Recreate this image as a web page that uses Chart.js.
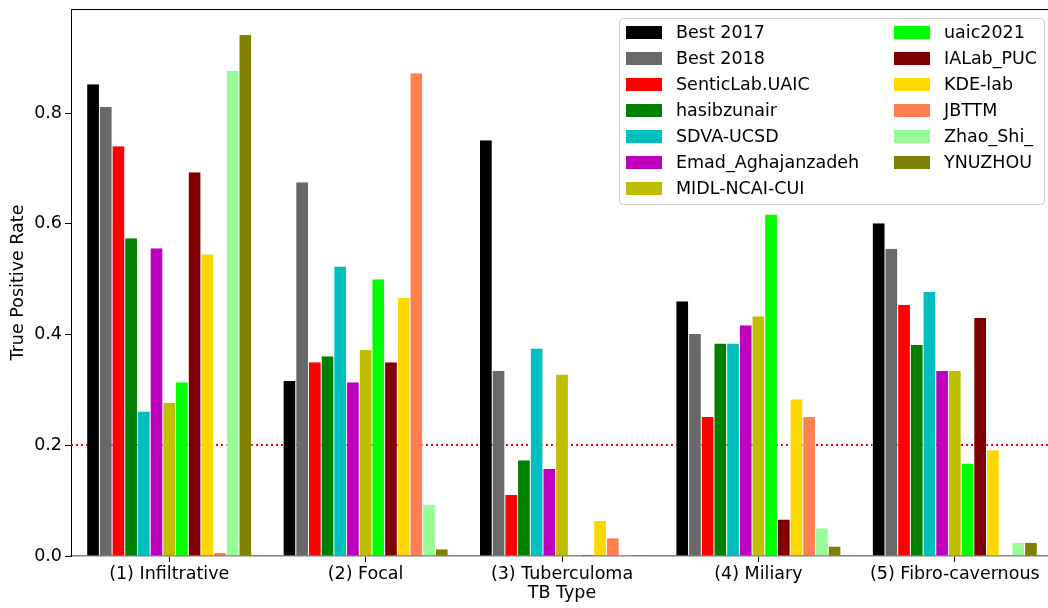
<!DOCTYPE html>
<html>
<head>
<meta charset="utf-8">
<script src="https://cdn.jsdelivr.net/npm/chart.js@4/dist/chart.umd.min.js"></script>
<style>
  html, body { margin: 0; padding: 0; background: #fff; overflow: hidden; }
  #wrap { width: 1053px; height: 608px; }
</style>
</head>
<body>
<div id="wrap"><canvas id="myChart" width="1053" height="608"></canvas></div>
<script>
// TB types on the x axis
const categories = ["(1) Infiltrative", "(2) Focal", "(3) Tuberculoma", "(4) Miliary", "(5) Fibro-cavernous"];

// true positive rate per team, one value per TB type
const best2017 = [0.852, 0.316, 0.751, 0.460, 0.601];
const best2018 = [0.811, 0.675, 0.334, 0.401, 0.555];
const senticLab = [0.740, 0.350, 0.110, 0.251, 0.454];
const hasibzunair = [0.574, 0.361, 0.173, 0.384, 0.381];
const sdvaUcsd = [0.261, 0.523, 0.375, 0.384, 0.477];
const emad = [0.556, 0.314, 0.157, 0.417, 0.334];
const midl = [0.277, 0.372, 0.328, 0.433, 0.334];
const uaic2021 = [0.314, 0.500, 0.002, 0.617, 0.167];
const ialab = [0.693, 0.350, 0.002, 0.066, 0.430];
const kdeLab = [0.545, 0.466, 0.063, 0.283, 0.191];
const jbttm = [0.006, 0.872, 0.032, 0.251, 0.002];
const zhaoShi = [0.876, 0.093, 0.002, 0.050, 0.024];
const ynuzhou = [0.941, 0.012, 0.002, 0.017, 0.024];

const yTicks = [0, 0.2, 0.4, 0.6, 0.8];
const threshold = 0.2;

const series = [
  ["Best 2017", best2017, "#000000"],
  ["Best 2018", best2018, "#696969"],
  ["SenticLab.UAIC", senticLab, "#ff0000"],
  ["hasibzunair", hasibzunair, "#008000"],
  ["SDVA-UCSD", sdvaUcsd, "#00bfbf"],
  ["Emad_Aghajanzadeh", emad, "#bf00bf"],
  ["MIDL-NCAI-CUI", midl, "#bfbf00"],
  ["uaic2021", uaic2021, "#00ff00"],
  ["IALab_PUC", ialab, "#800000"],
  ["KDE-lab", kdeLab, "#ffd700"],
  ["JBTTM", jbttm, "#ff7f50"],
  ["Zhao_Shi_", zhaoShi, "#98fb98"],
  ["YNUZHOU", ynuzhou, "#808000"],
];

const FS = 17.5;
Chart.defaults.font.family = "'DejaVu Sans', sans-serif";
Chart.defaults.font.size = FS;
Chart.defaults.color = "#000";

// red dotted line, top spine and the two-column legend
const extras = {
  id: "extras",
  beforeDatasetsDraw(chart) {
    const { ctx, chartArea } = chart;
    const y = Math.round(chart.scales.y.getPixelForValue(threshold));
    ctx.save();
    ctx.strokeStyle = "#ff0000";
    ctx.lineWidth = 2;
    ctx.setLineDash([2, 3]);
    ctx.beginPath();
    ctx.moveTo(chartArea.left, y);
    ctx.lineTo(chartArea.right, y);
    ctx.stroke();
    ctx.restore();
  },
  afterDraw(chart) {
    const { ctx, chartArea } = chart;
    ctx.save();
    ctx.strokeStyle = "#000";
    ctx.lineWidth = 1;
    ctx.beginPath();
    ctx.moveTo(chartArea.left, chartArea.top + 0.5);
    ctx.lineTo(chartArea.right, chartArea.top + 0.5);
    ctx.stroke();

    // legend box
    const bx = 619, by = 18, bw = 425, bh = 186, r = 4;
    ctx.fillStyle = "rgba(255,255,255,0.85)";
    ctx.strokeStyle = "#cccccc";
    ctx.lineWidth = 1;
    ctx.beginPath();
    ctx.roundRect(bx + 0.5, by + 0.5, bw, bh, r);
    ctx.fill();
    ctx.stroke();

    ctx.font = FS + "px 'DejaVu Sans'";
    ctx.textBaseline = "middle";
    ctx.textAlign = "left";
    chart.data.datasets.forEach((ds, i) => {
      const col = i < 7 ? 0 : 1;
      const row = i < 7 ? i : i - 7;
      const sx = col === 0 ? 626 : 894;
      const tx = col === 0 ? 676 : 944;
      const cy = 32.5 + row * 26;
      ctx.fillStyle = ds.backgroundColor;
      ctx.fillRect(sx, cy - 6.5, 36, 13);
      ctx.fillStyle = "#000";
      ctx.fillText(ds.label, tx, cy + 1);
    });
    ctx.restore();
  },
};

const ctx = document.getElementById("myChart").getContext("2d");
const myChart = new Chart(ctx, {
  type: "bar",
  data: {
    labels: categories,
    datasets: series.map(([label, values, color]) => ({
      label: label,
      data: values,
      backgroundColor: color,
      borderColor: "#ffffff",
      borderWidth: { left: 0.5, right: 0.5, top: 0, bottom: 0 },
      borderSkipped: false,
      categoryPercentage: 0.84,
      barPercentage: 1.0,
    })),
  },
  plugins: [extras],
  options: {
    responsive: false,
    animation: false,
    devicePixelRatio: 1,
    layout: { padding: { top: 9, left: 0, right: 0, bottom: 0 } },
    plugins: {
      legend: { display: false },
      tooltip: { enabled: false },
    },
    scales: {
      x: {
        afterFit: (scale) => {
          scale.height = 52;
          scale.paddingLeft = 0;
          scale.paddingRight = 0;
        },
        grid: { drawOnChartArea: false, offset: false, tickLength: 6, color: "#000", tickWidth: 1 },
        border: { color: "#808080", width: 1.5 },
        ticks: { padding: 2, maxRotation: 0, autoSkip: false },
        title: { display: true, text: "TB Type", padding: { top: 0, bottom: 4 } },
      },
      y: {
        min: 0,
        max: 0.988,
        afterFit: (scale) => {
          scale.width = 71;
          scale.paddingTop = 0;
          scale.paddingBottom = 0;
        },
        afterBuildTicks: (axis) => { axis.ticks = yTicks.map((v) => ({ value: v })); },
        grid: { drawOnChartArea: false, tickLength: 6, color: "#000" },
        border: { color: "#000", width: 1 },
        ticks: { padding: 3, callback: (v) => Number(v).toFixed(1) },
        title: { display: true, text: "True Positive Rate", padding: { top: 8, bottom: 0 } },
      },
    },
  },
});
</script>
</body>
</html>
